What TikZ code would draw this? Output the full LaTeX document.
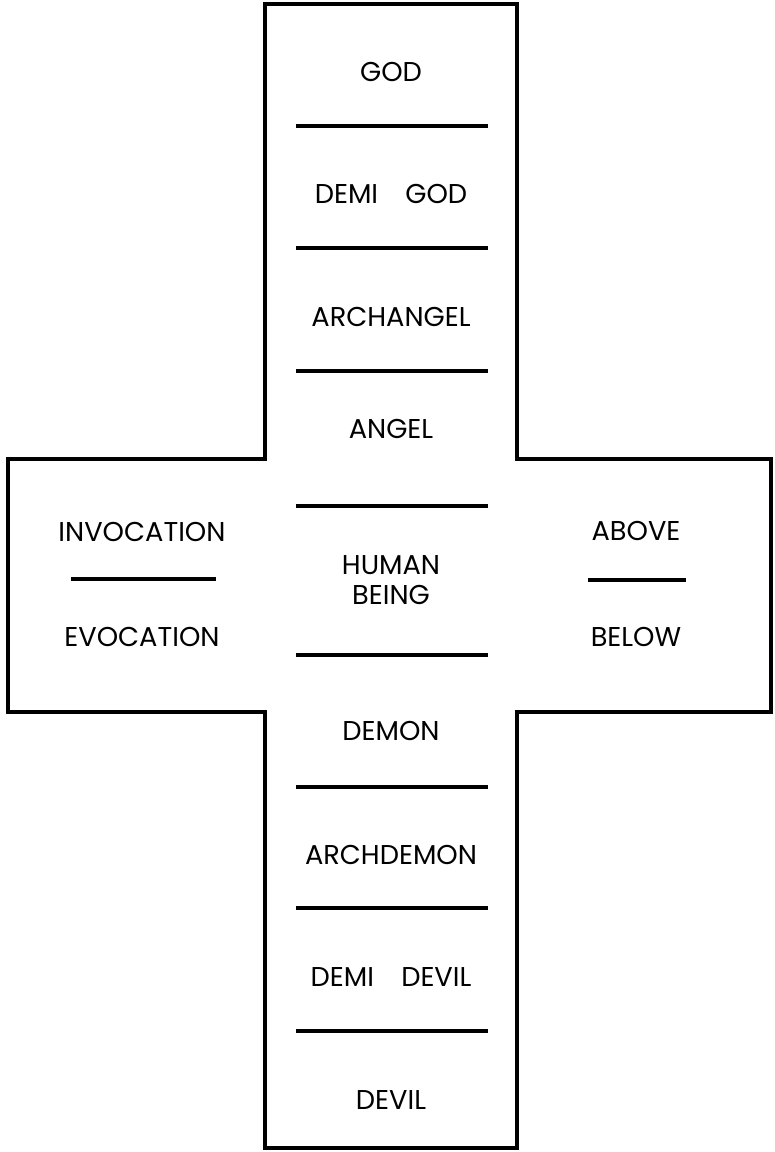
\documentclass[tikz,border=0pt]{standalone}
\usepackage{fontspec}
\setmainfont{Poppins}
\tikzset{
  rung/.style={line width=2.1pt},
  level/.style={font=\fontsize{15.5}{17}\selectfont, align=center, inner sep=0pt}
}

\begin{document}
\begin{tikzpicture}[x=0.02cm, y=-0.02cm]
  \useasboundingbox (0,0) rectangle (774,1152);

  % the cross
  \draw[line width=2.1pt, line join=miter]
    (265,4) -- (517,4) -- (517,459) -- (771,459) -- (771,712) -- (517,712)
    -- (517,1148) -- (265,1148) -- (265,712) -- (8,712) -- (8,459) -- (265,459) -- cycle;

  % separators in the upright
  \foreach \ly in {126,248,371,506,655,787,908,1031}
    \draw[rung] (296,\ly) -- (488,\ly);
  % separators in the arms
  \draw[rung] (71,579) -- (216,579);
  \draw[rung] (588,580) -- (686,580);

  % levels
  \node[level] (god) at (391,72) {GOD};
  \node[level] (demigod) at (391,194) {DEMI\quad GOD};
  \node[level] (archangel) at (391,317) {ARCHANGEL};
  \node[level] (angel) at (391,429) {ANGEL};
  \node[level] (human) at (391,580) {HUMAN\\BEING};
  \node[level] (demon) at (391,731) {DEMON};
  \node[level] (archdemon) at (391,855) {ARCHDEMON};
  \node[level] (demidevil) at (391,977) {DEMI\quad DEVIL};
  \node[level] (devil) at (391,1100) {DEVIL};

  % arms
  \node[level] (invocation) at (142,532) {INVOCATION};
  \node[level] (evocation) at (142,637) {EVOCATION};
  \node[level] (above) at (636,531) {ABOVE};
  \node[level] (below) at (636,637) {BELOW};
\end{tikzpicture}
\end{document}
